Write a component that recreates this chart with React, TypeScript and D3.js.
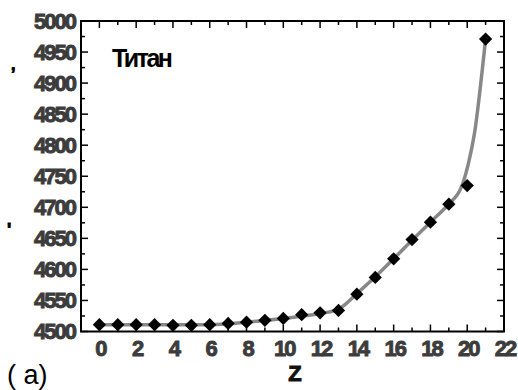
import React from 'react';
import * as d3 from 'd3';

// measured points
const zValues = [0, 1, 2, 3, 4, 5, 6, 7, 8, 9, 10, 11, 12, 13, 14, 15, 16, 17, 18, 19, 20, 21];
const energy = [4511, 4511, 4511, 4511, 4510, 4510, 4511, 4513, 4515, 4518, 4521, 4527, 4530, 4534, 4560, 4587, 4617, 4648, 4676, 4705, 4735, 4971];

// smooth gray fit line
const fitZ = [0, 2, 4, 6, 8, 10, 12, 13, 14, 15, 16, 17, 18, 19, 19.5, 19.8, 20.1, 20.4, 20.7, 21];
const fitE = [4511, 4511, 4511, 4511, 4515, 4521, 4529, 4536, 4561, 4588, 4617, 4647, 4676, 4705, 4722, 4742, 4775, 4820, 4890, 4971];

const xTickLabels = [0, 2, 4, 6, 8, 10, 12, 14, 16, 18, 20, 22];
const yTickLabels = [4500, 4550, 4600, 4650, 4700, 4750, 4800, 4850, 4900, 4950, 5000];

const W = 518;
const H = 390;
const left = 81, right = 504, top = 21, bottom = 331.5;

const App = () => {
  const x = d3.scaleLinear().domain([-1, 22]).range([left, right]);
  const y = d3.scaleLinear().domain([4500, 5000]).range([bottom, top]);

  const line = d3.line<number>()
    .x((d, i) => x(fitZ[i]))
    .y(d => y(d))
    .curve(d3.curveCatmullRom.alpha(0.5));

  const diamond = d3.symbol().type(d3.symbolSquare).size(88)();

  const xMinor = d3.range(-1, 22, 1).filter(v => v % 2 !== 0);
  const yMinor = d3.range(4525, 5000, 50);
  const tickFont = "'Liberation Sans', Arial, sans-serif";
  const tickStyle = {
    fontFamily: tickFont, fontWeight: 'bold', fontSize: '22px', letterSpacing: '-2px',
    fill: '#3c3c3c', stroke: '#3c3c3c', strokeWidth: 0.9,
  };

  return (
    <svg width={W} height={H} style={{ position: 'absolute', left: 0, top: 0, background: '#fff' }}>
      {/* ticks, inward on all sides */}
      <g stroke="#000" strokeWidth={1.5}>
        {xTickLabels.map(v => (
          <g key={'xm' + v}>
            <line x1={x(v)} x2={x(v)} y1={bottom} y2={bottom - 7} />
            <line x1={x(v)} x2={x(v)} y1={top} y2={top + 7} />
          </g>
        ))}
        {xMinor.map(v => (
          <g key={'xn' + v}>
            <line x1={x(v)} x2={x(v)} y1={bottom} y2={bottom - 4} />
            <line x1={x(v)} x2={x(v)} y1={top} y2={top + 4} />
          </g>
        ))}
        {yTickLabels.map(v => (
          <g key={'ym' + v}>
            <line x1={left} x2={left + 7} y1={y(v)} y2={y(v)} />
            <line x1={right} x2={right - 7} y1={y(v)} y2={y(v)} />
          </g>
        ))}
        {yMinor.map(v => (
          <g key={'yn' + v}>
            <line x1={left} x2={left + 4} y1={y(v)} y2={y(v)} />
            <line x1={right} x2={right - 4} y1={y(v)} y2={y(v)} />
          </g>
        ))}
      </g>
      <rect x={left} y={top} width={right - left} height={bottom - top} fill="none" stroke="#000" strokeWidth={2} />

      <path d={line(fitE) || ''} fill="none" stroke="#888" strokeWidth={3.5} />
      {zValues.map((z, i) => (
        <path key={z} d={diamond || ''} transform={`translate(${x(z)},${y(energy[i])}) rotate(45)`} fill="#000" />
      ))}

      {yTickLabels.map(v => (
        <text key={v} x={75} y={y(v)} dy="0.36em" textAnchor="end" style={tickStyle}>{v}</text>
      ))}
      {xTickLabels.map(v => (
        <text key={v} x={x(v) + 1} y={356} textAnchor="middle" style={tickStyle}>{v}</text>
      ))}

      <text x={295} y={381} textAnchor="middle" style={{ ...tickStyle, fontSize: '22px', fill: '#111', stroke: '#111', letterSpacing: '0px' }}>Z</text>
      <text x={7} y={384} fontFamily={tickFont} fontSize={27} fill="#000">( a)</text>
      <text x={112} y={67} fontFamily={tickFont} fontSize={25} letterSpacing={-2.5} fill="#000" style={{ fontWeight: 600 }}>Титан</text>

      {/* y-axis title remnants */}
      <text x={11} y={70} style={{ ...tickStyle, fontSize: '16px', fill: '#000', stroke: '#000' }}>,</text>
      <text x={7} y={236} style={{ ...tickStyle, fontSize: '18px', fill: '#000', stroke: '#000' }}>'</text>
    </svg>
  );
};

export default App;
